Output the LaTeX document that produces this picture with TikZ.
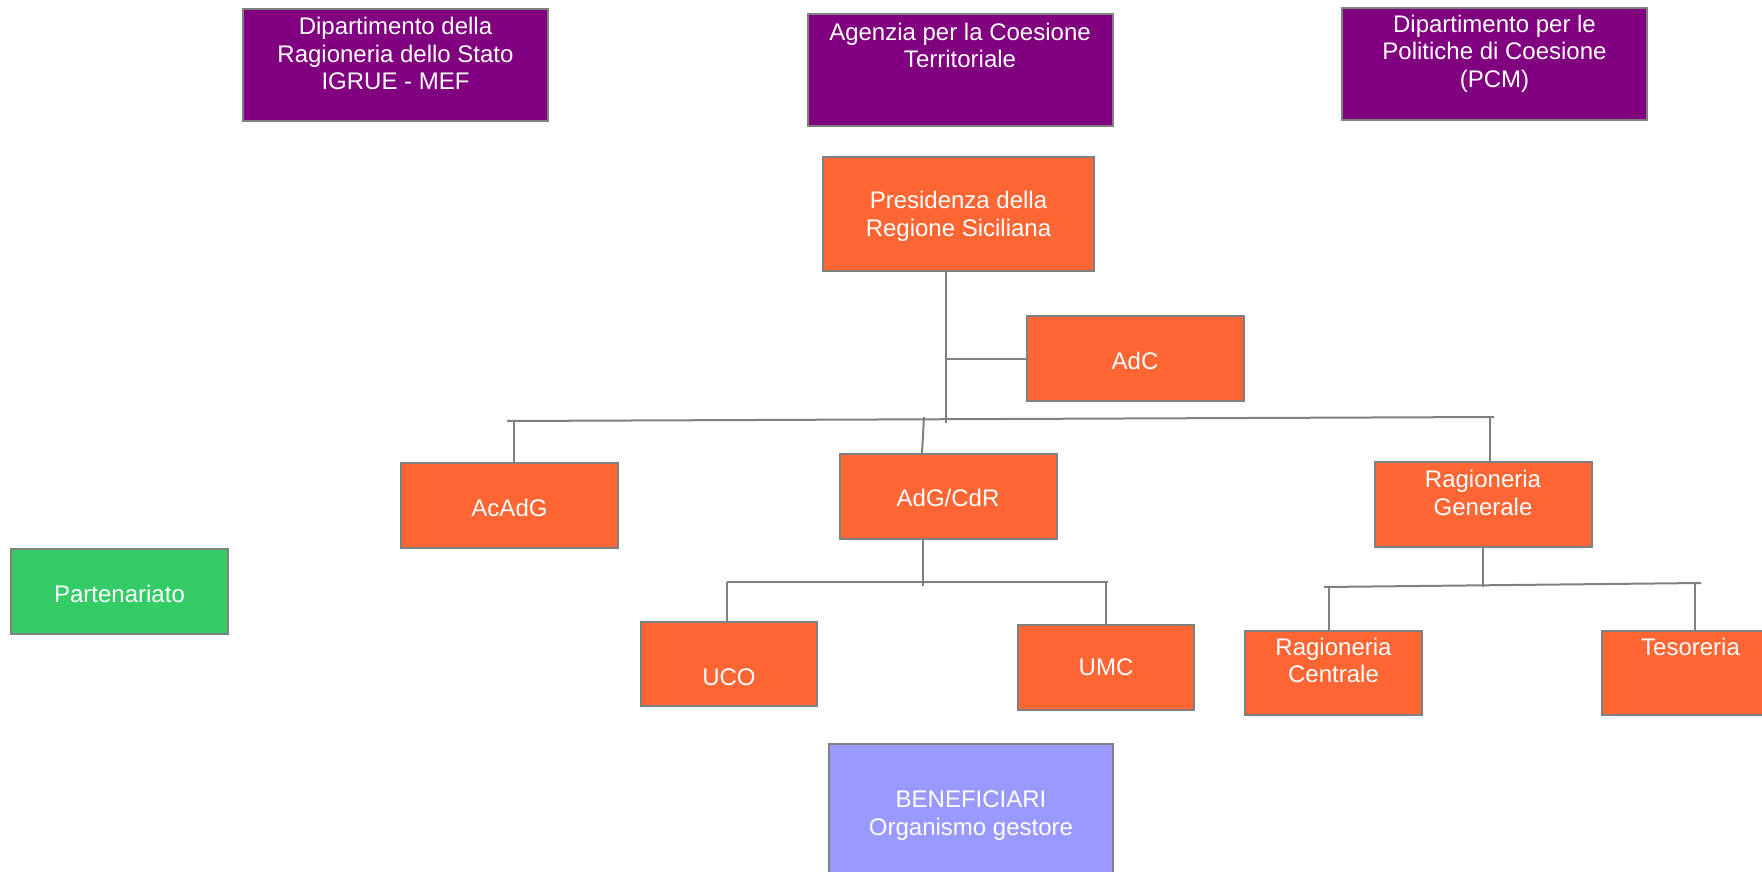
\documentclass[tikz,border=0pt]{standalone}
\usepackage{fontspec}
\setmainfont{Liberation Sans}

\definecolor{orgpurple}{HTML}{800080}
\definecolor{orgorange}{HTML}{FF6633}
\definecolor{orggreen}{HTML}{33CC66}
\definecolor{orgblue}{HTML}{9999FF}
\definecolor{linegray}{HTML}{808080}

\newcommand{\boxfont}{\fontsize{24}{27.5}\selectfont}

\tikzset{
  box/.style={draw=linegray, line width=2pt, text=white, align=center,
    inner sep=0pt, font=\boxfont},
  every label/.style={draw=none, fill=none, minimum width=0pt,
    minimum height=0pt, inner sep=0pt, text=white, align=center, font=\boxfont},
  conn/.style={draw=linegray, line width=2pt},
}

\begin{document}
\begin{tikzpicture}[x=1pt,y=-1pt]

        \useasboundingbox (0,0) rectangle (1762,872);
        \clip (0,0) rectangle (1762,872);

        % national level
        \begin{scope}[every node/.style={box, fill=orgpurple, minimum width=305pt, minimum height=112pt}]
          \node (igrue)   at (395.5,65)  [label={[yshift=11.5pt]center:{Dipartimento della\\Ragioneria dello Stato\\IGRUE - MEF}}] {};
          \node (agenzia) at (960,70)    [label={[yshift=24.5pt]center:{Agenzia per la Coesione\\Territoriale}}] {};
          \node (dpcoe)   at (1494.5,64) [label={[yshift=10.5pt]center:{Dipartimento per le\\Politiche di Coesione\\(PCM)}}] {};
        \end{scope}

        % regional level
        \begin{scope}[every node/.style={box, fill=orgorange, minimum width=217pt, minimum height=85pt}]
          \node (pres)  at (958.5,214)  [minimum width=271pt, minimum height=114pt, label={[yshift=-2.5pt]center:{Presidenza della\\Regione Siciliana}}] {};
          \node (adc)   at (1135,358.5) [label={[yshift=-2.5pt]center:AdC}] {};
          \node (acadg) at (509.5,505.5) [label={[yshift=-2pt]center:AcAdG}] {};
          \node (adg)   at (948,496.5)  [label={[yshift=-1.5pt]center:AdG/CdR}] {};
          \node (rg)    at (1483,504.5) [label={[yshift=11.5pt]center:{Ragioneria\\Generale}}] {};
          \node (uco)   at (729,664)    [minimum width=176pt, minimum height=84pt, label={[yshift=-13pt]center:UCO}] {};
          \node (umc)   at (1106,667.5) [minimum width=176pt] {UMC};
          \node (rc)    at (1333.5,673) [minimum width=177pt, minimum height=84pt, label={[yshift=12.5pt]center:{Ragioneria\\Centrale}}] {};
          \node (tes)   at (1690.5,673) [minimum width=177pt, minimum height=84pt, label={[yshift=26pt]center:Tesoreria}] {};
        \end{scope}

        \node[box, fill=orggreen, minimum width=217pt, minimum height=85pt] (part) at (119.5,591.5) [label={[yshift=-2.5pt]center:Partenariato}] {};
        \node[box, fill=orgblue, minimum width=284pt, minimum height=138pt] (benef) at (971,813) [label={[yshift=-2.5pt]center:{BENEFICIARI\\Organismo gestore}}] {};

        % bus lines
        \coordinate (trunk) at (946,421);
        \coordinate (busL)  at (507,421);
        \coordinate (busR)  at (1494,417);
        \coordinate (subL)  at (727,582);
        \coordinate (subR)  at (1108,582);
        \coordinate (ragL)  at (1324,587);
        \coordinate (ragR)  at (1701,583);

        \draw[conn] (pres.south -| trunk) -- ([yshift=-2pt]trunk);
        \draw[conn] (adc.west) -- (adc.west -| trunk);
        \draw[conn] (busL) -- (busR);
        \draw[conn] ([xshift=4.5pt]acadg.north) -- ([xshift=4.5pt]acadg.north |- busL);
        \draw[conn] ([xshift=-26pt]adg.north) -- ([xshift=-24pt]adg.north |- busR);
        \draw[conn] ([xshift=7pt]rg.north) -- ([xshift=7pt]rg.north |- busR);

        \draw[conn] ([xshift=-25pt]adg.south) -- ([xshift=-25pt,yshift=-4pt]adg.south |- subL);
        \draw[conn] (subL) -- (subR);
        \draw[conn] ([xshift=-2pt]uco.north) -- ([xshift=-2pt]uco.north |- subL);
        \draw[conn] (umc.north) -- (umc.north |- subR);

        \draw[conn] (rg.south) -- (rg.south |- ragL);
        \draw[conn] (ragL) -- (ragR);
        \draw[conn] ([xshift=-4.5pt]rc.north) -- ([xshift=-4.5pt]rc.north |- ragL);
        \draw[conn] ([xshift=4pt]tes.north) -- ([xshift=4pt]tes.north |- ragR);

      \end{tikzpicture}
\end{document}
